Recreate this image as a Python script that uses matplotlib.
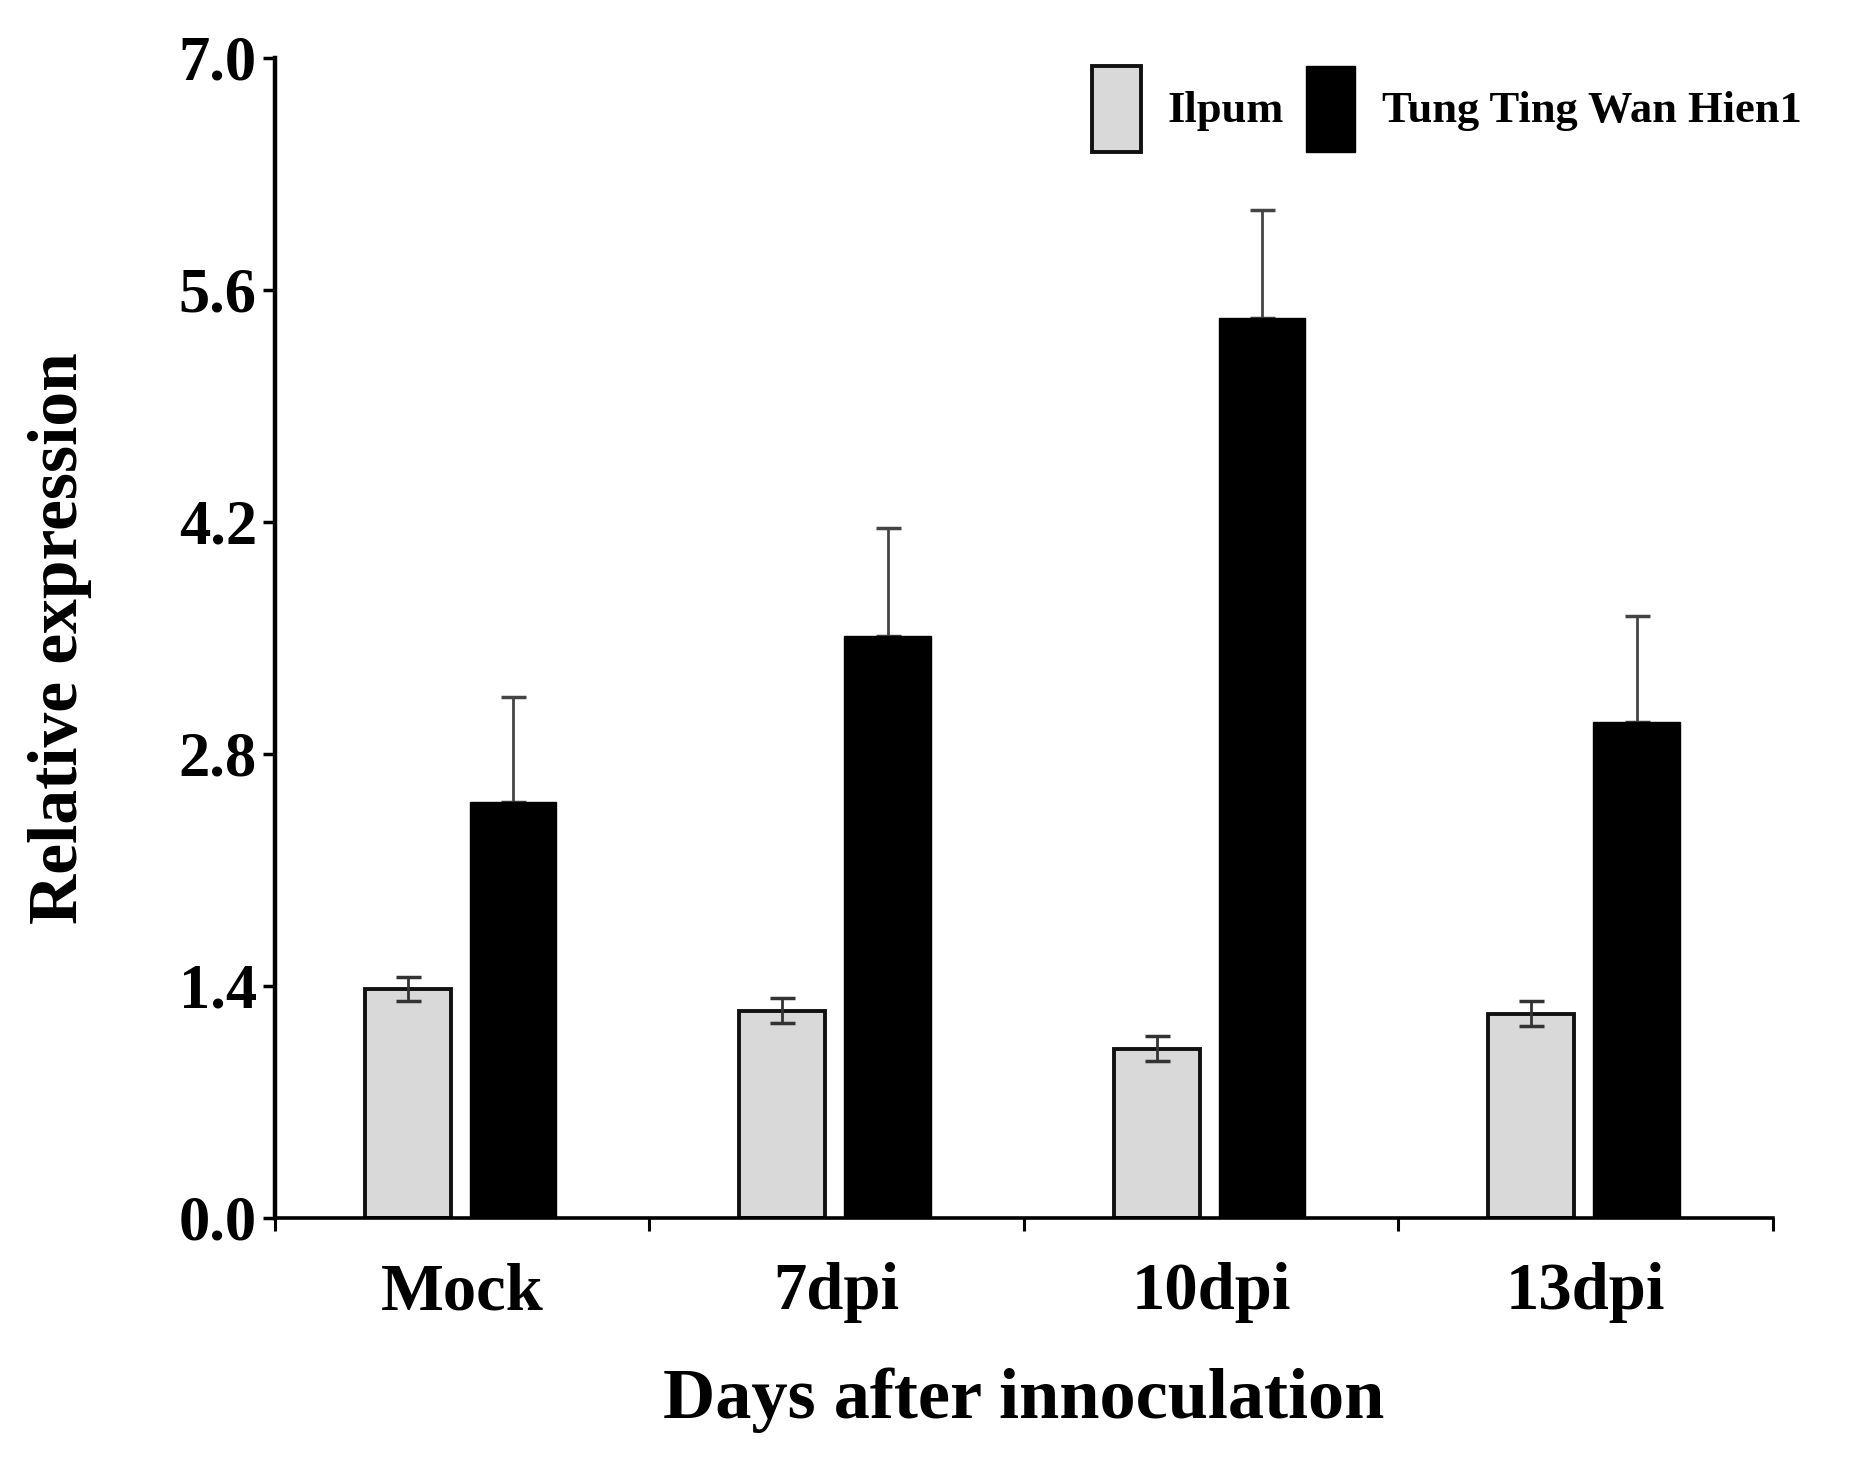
import matplotlib
matplotlib.use("Agg")
import matplotlib.pyplot as plt
import numpy as np

categories = ["Mock", "7dpi", "10dpi", "13dpi"]
series_names = ["Ilpum", "Tung Ting Wan Hien1"]
ilpum_values = [1.38, 1.25, 1.02, 1.23]
ilpum_err = [0.07, 0.075, 0.075, 0.075]
tung_values = [2.51, 3.51, 5.43, 2.99]
tung_err = [0.63, 0.65, 0.65, 0.64]
yticks = [0.0, 1.4, 2.8, 4.2, 5.6, 7.0]

plt.rcParams['font.family'] = ['Liberation Serif', 'DejaVu Serif']
plt.rcParams['font.weight'] = 'bold'

fig = plt.figure(figsize=(18.76, 14.76), dpi=100)
ax = fig.add_axes([0.1465, 0.175, 0.945 - 0.1465, 0.961 - 0.175])

idx = np.arange(len(categories))
w = 0.23
ax.bar(idx + 0.355, ilpum_values, width=w, color='#d9d9d9', edgecolor='#111111',
       linewidth=2.8, label=series_names[0], zorder=2)
ax.bar(idx + 0.636, tung_values, width=w, color='black', edgecolor='black',
       linewidth=1.0, label=series_names[1], zorder=2)
ax.errorbar(idx + 0.355, ilpum_values, yerr=ilpum_err, fmt='none', ecolor='#333333',
            elinewidth=2.0, capsize=9, capthick=2.5, zorder=3)
ax.errorbar(idx + 0.636, tung_values, yerr=[np.zeros(len(tung_err)), tung_err], fmt='none',
            ecolor='#444444', elinewidth=2.0, capsize=9, capthick=2.5, zorder=1)

ax.set_xlim(0, len(categories))
ax.set_ylim(0, 7.0)
ax.set_yticks(yticks)
ax.set_yticklabels([f"{v:.1f}" for v in yticks], fontsize=45, fontweight='bold')
ax.set_xticks(np.arange(len(categories) + 1))
ax.set_xticklabels([])
ax.set_xticks(idx + 0.5, minor=True)
ax.set_xticklabels(categories, minor=True, fontsize=48, fontweight='bold')
ax.tick_params(axis='x', which='major', direction='out', length=9, width=2.2)
ax.tick_params(axis='x', which='minor', length=0, pad=32)
ax.tick_params(axis='y', direction='out', length=9, width=2.5, pad=4)

for s in ['top', 'right']:
    ax.spines[s].set_visible(False)
ax.spines['left'].set_linewidth(3.2)
ax.spines['bottom'].set_linewidth(2.6)

ax.set_xlabel("Days after innoculation", fontsize=52, fontweight='bold', labelpad=32)
ax.set_ylabel("Relative expression", fontsize=50, fontweight='bold', labelpad=62)

leg = ax.legend(loc='upper left', bbox_to_anchor=(1092 / 1876, 1 - 66 / 1476),
                bbox_transform=fig.transFigure, ncol=2, frameon=False,
                fontsize=32, handlelength=1.1, handleheight=2.6,
                handletextpad=0.6, columnspacing=0.5, borderpad=0, borderaxespad=0)
for t in leg.get_texts():
    t.set_fontweight('bold')

fig.savefig("out.png", dpi=100)
